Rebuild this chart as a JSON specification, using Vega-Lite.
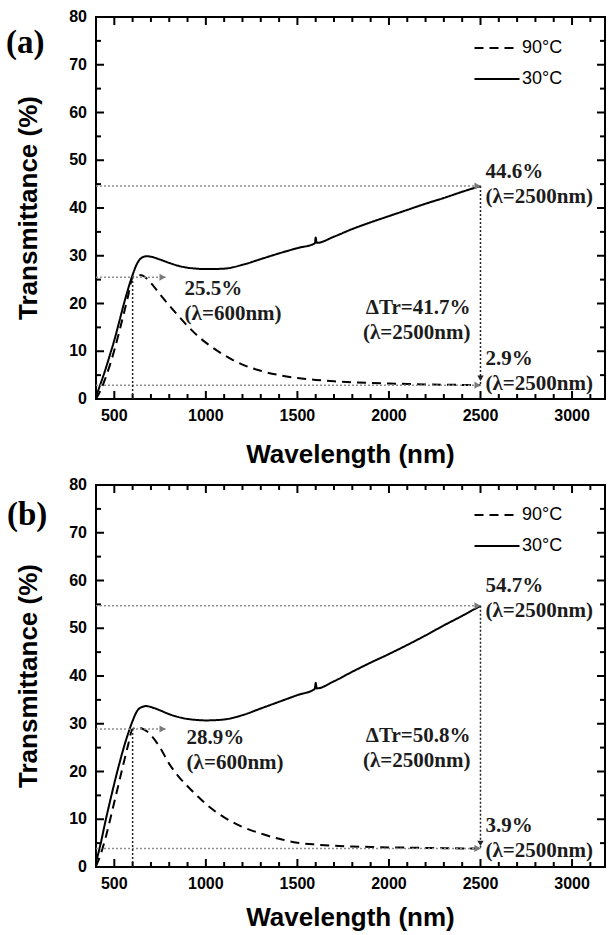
{
  "$schema": "https://vega.github.io/schema/vega-lite/v6.json",
  "background": "white",
  "padding": {"left": 5, "top": 8, "right": 0, "bottom": 0},
  "spacing": 7,
  "config": {
    "view": {"stroke": "black", "strokeWidth": 2},
    "tick": {"color": "black", "opacity": 1, "thickness": 2},
    "title": {"font": "Liberation Serif", "fontSize": 33, "fontWeight": "bold", "color": "black"},
    "text": {"font": "Liberation Serif", "fontSize": 21, "fontWeight": "bold", "color": "#1c1c1c", "lineBreak": "\n", "lineHeight": 25, "baseline": "middle"}
  },
  "resolve": {"scale": {"strokeDash": "independent"}, "legend": {"strokeDash": "independent"}},
  "datasets": {
    "xMajor": [{"v": 500}, {"v": 1000}, {"v": 1500}, {"v": 2000}, {"v": 2500}, {"v": 3000}],
    "xMinor": [{"v": 600}, {"v": 700}, {"v": 800}, {"v": 900}, {"v": 1100}, {"v": 1200}, {"v": 1300}, {"v": 1400},
      {"v": 1600}, {"v": 1700}, {"v": 1800}, {"v": 1900}, {"v": 2100}, {"v": 2200}, {"v": 2300}, {"v": 2400},
      {"v": 2600}, {"v": 2700}, {"v": 2800}, {"v": 2900}, {"v": 3100}],
    "yMajor": [{"v": 10}, {"v": 20}, {"v": 30}, {"v": 40}, {"v": 50}, {"v": 60}, {"v": 70}],
    "yMinor": [{"v": 5}, {"v": 15}, {"v": 25}, {"v": 35}, {"v": 45}, {"v": 55}, {"v": 65}, {"v": 75}],
    "yLabels": [{"v": 0}, {"v": 10}, {"v": 20}, {"v": 30}, {"v": 40}, {"v": 50}, {"v": 60}, {"v": 70}, {"v": 80}],
    "spectraA": [
      {"wl": 400, "T": 0.5, "temp": "30°C"}, {"wl": 425, "T": 3.2, "temp": "30°C"}, {"wl": 450, "T": 6.0, "temp": "30°C"},
      {"wl": 475, "T": 9.1, "temp": "30°C"}, {"wl": 500, "T": 12.3, "temp": "30°C"}, {"wl": 525, "T": 15.9, "temp": "30°C"},
      {"wl": 550, "T": 19.6, "temp": "30°C"}, {"wl": 575, "T": 23.0, "temp": "30°C"}, {"wl": 600, "T": 26.0, "temp": "30°C"},
      {"wl": 625, "T": 28.4, "temp": "30°C"}, {"wl": 650, "T": 29.6, "temp": "30°C"}, {"wl": 675, "T": 29.9, "temp": "30°C"},
      {"wl": 700, "T": 29.8, "temp": "30°C"}, {"wl": 750, "T": 29.2, "temp": "30°C"}, {"wl": 800, "T": 28.5, "temp": "30°C"},
      {"wl": 850, "T": 27.9, "temp": "30°C"}, {"wl": 900, "T": 27.5, "temp": "30°C"}, {"wl": 950, "T": 27.3, "temp": "30°C"},
      {"wl": 1000, "T": 27.2, "temp": "30°C"}, {"wl": 1100, "T": 27.3, "temp": "30°C"}, {"wl": 1200, "T": 28.1, "temp": "30°C"},
      {"wl": 1300, "T": 29.3, "temp": "30°C"}, {"wl": 1400, "T": 30.5, "temp": "30°C"}, {"wl": 1500, "T": 31.6, "temp": "30°C"},
      {"wl": 1595, "T": 32.6, "temp": "30°C"}, {"wl": 1600, "T": 33.8, "temp": "30°C"}, {"wl": 1605, "T": 32.7, "temp": "30°C"},
      {"wl": 1700, "T": 34.0, "temp": "30°C"}, {"wl": 1800, "T": 35.6, "temp": "30°C"}, {"wl": 1900, "T": 37.0, "temp": "30°C"},
      {"wl": 2000, "T": 38.3, "temp": "30°C"}, {"wl": 2100, "T": 39.6, "temp": "30°C"}, {"wl": 2200, "T": 40.9, "temp": "30°C"},
      {"wl": 2300, "T": 42.1, "temp": "30°C"}, {"wl": 2400, "T": 43.4, "temp": "30°C"}, {"wl": 2500, "T": 44.6, "temp": "30°C"},
      {"wl": 400, "T": 0.0, "temp": "90°C"}, {"wl": 425, "T": 1.8, "temp": "90°C"}, {"wl": 450, "T": 4.2, "temp": "90°C"},
      {"wl": 475, "T": 7.0, "temp": "90°C"}, {"wl": 500, "T": 10.2, "temp": "90°C"}, {"wl": 525, "T": 13.8, "temp": "90°C"},
      {"wl": 550, "T": 17.6, "temp": "90°C"}, {"wl": 575, "T": 21.5, "temp": "90°C"}, {"wl": 600, "T": 25.5, "temp": "90°C"},
      {"wl": 625, "T": 26.0, "temp": "90°C"}, {"wl": 650, "T": 25.9, "temp": "90°C"}, {"wl": 675, "T": 25.3, "temp": "90°C"},
      {"wl": 700, "T": 24.3, "temp": "90°C"}, {"wl": 750, "T": 21.9, "temp": "90°C"}, {"wl": 800, "T": 19.6, "temp": "90°C"},
      {"wl": 850, "T": 17.4, "temp": "90°C"}, {"wl": 900, "T": 15.3, "temp": "90°C"}, {"wl": 950, "T": 13.4, "temp": "90°C"},
      {"wl": 1000, "T": 11.8, "temp": "90°C"}, {"wl": 1100, "T": 9.2, "temp": "90°C"}, {"wl": 1200, "T": 7.2, "temp": "90°C"},
      {"wl": 1300, "T": 5.9, "temp": "90°C"}, {"wl": 1400, "T": 5.0, "temp": "90°C"}, {"wl": 1500, "T": 4.4, "temp": "90°C"},
      {"wl": 1600, "T": 4.0, "temp": "90°C"}, {"wl": 1700, "T": 3.7, "temp": "90°C"}, {"wl": 1800, "T": 3.5, "temp": "90°C"},
      {"wl": 1900, "T": 3.35, "temp": "90°C"}, {"wl": 2000, "T": 3.25, "temp": "90°C"}, {"wl": 2100, "T": 3.15, "temp": "90°C"},
      {"wl": 2200, "T": 3.05, "temp": "90°C"}, {"wl": 2300, "T": 3.0, "temp": "90°C"}, {"wl": 2400, "T": 2.95, "temp": "90°C"},
      {"wl": 2500, "T": 2.9, "temp": "90°C"}
    ],
    "spectraB": [
      {"wl": 400, "T": 1.0, "temp": "30°C"}, {"wl": 425, "T": 4.8, "temp": "30°C"}, {"wl": 450, "T": 9.3, "temp": "30°C"},
      {"wl": 475, "T": 13.5, "temp": "30°C"}, {"wl": 500, "T": 17.5, "temp": "30°C"}, {"wl": 525, "T": 21.3, "temp": "30°C"},
      {"wl": 550, "T": 24.8, "temp": "30°C"}, {"wl": 575, "T": 27.9, "temp": "30°C"}, {"wl": 600, "T": 30.6, "temp": "30°C"},
      {"wl": 625, "T": 32.7, "temp": "30°C"}, {"wl": 650, "T": 33.5, "temp": "30°C"}, {"wl": 675, "T": 33.7, "temp": "30°C"},
      {"wl": 700, "T": 33.5, "temp": "30°C"}, {"wl": 750, "T": 32.8, "temp": "30°C"}, {"wl": 800, "T": 32.0, "temp": "30°C"},
      {"wl": 850, "T": 31.4, "temp": "30°C"}, {"wl": 900, "T": 31.0, "temp": "30°C"}, {"wl": 950, "T": 30.8, "temp": "30°C"},
      {"wl": 1000, "T": 30.7, "temp": "30°C"}, {"wl": 1100, "T": 30.9, "temp": "30°C"}, {"wl": 1200, "T": 31.8, "temp": "30°C"},
      {"wl": 1300, "T": 33.2, "temp": "30°C"}, {"wl": 1400, "T": 34.6, "temp": "30°C"}, {"wl": 1500, "T": 36.0, "temp": "30°C"},
      {"wl": 1595, "T": 37.3, "temp": "30°C"}, {"wl": 1600, "T": 38.6, "temp": "30°C"}, {"wl": 1605, "T": 37.4, "temp": "30°C"},
      {"wl": 1700, "T": 38.9, "temp": "30°C"}, {"wl": 1800, "T": 40.9, "temp": "30°C"}, {"wl": 1900, "T": 42.8, "temp": "30°C"},
      {"wl": 2000, "T": 44.6, "temp": "30°C"}, {"wl": 2100, "T": 46.5, "temp": "30°C"}, {"wl": 2200, "T": 48.5, "temp": "30°C"},
      {"wl": 2300, "T": 50.6, "temp": "30°C"}, {"wl": 2400, "T": 52.6, "temp": "30°C"}, {"wl": 2500, "T": 54.7, "temp": "30°C"},
      {"wl": 400, "T": 0.2, "temp": "90°C"}, {"wl": 425, "T": 2.6, "temp": "90°C"}, {"wl": 450, "T": 5.8, "temp": "90°C"},
      {"wl": 475, "T": 9.6, "temp": "90°C"}, {"wl": 500, "T": 13.6, "temp": "90°C"}, {"wl": 525, "T": 17.6, "temp": "90°C"},
      {"wl": 550, "T": 21.6, "temp": "90°C"}, {"wl": 575, "T": 25.5, "temp": "90°C"}, {"wl": 600, "T": 28.9, "temp": "90°C"},
      {"wl": 625, "T": 29.2, "temp": "90°C"}, {"wl": 650, "T": 29.0, "temp": "90°C"}, {"wl": 675, "T": 28.5, "temp": "90°C"},
      {"wl": 700, "T": 27.6, "temp": "90°C"}, {"wl": 750, "T": 25.0, "temp": "90°C"}, {"wl": 800, "T": 21.6, "temp": "90°C"},
      {"wl": 850, "T": 19.0, "temp": "90°C"}, {"wl": 900, "T": 16.9, "temp": "90°C"}, {"wl": 950, "T": 15.0, "temp": "90°C"},
      {"wl": 1000, "T": 13.2, "temp": "90°C"}, {"wl": 1100, "T": 10.4, "temp": "90°C"}, {"wl": 1200, "T": 8.4, "temp": "90°C"},
      {"wl": 1300, "T": 7.0, "temp": "90°C"}, {"wl": 1400, "T": 5.9, "temp": "90°C"}, {"wl": 1500, "T": 5.1, "temp": "90°C"},
      {"wl": 1600, "T": 4.7, "temp": "90°C"}, {"wl": 1700, "T": 4.45, "temp": "90°C"}, {"wl": 1800, "T": 4.3, "temp": "90°C"},
      {"wl": 1900, "T": 4.2, "temp": "90°C"}, {"wl": 2000, "T": 4.1, "temp": "90°C"}, {"wl": 2100, "T": 4.05, "temp": "90°C"},
      {"wl": 2200, "T": 4.0, "temp": "90°C"}, {"wl": 2300, "T": 3.95, "temp": "90°C"}, {"wl": 2400, "T": 3.9, "temp": "90°C"},
      {"wl": 2500, "T": 3.9, "temp": "90°C"}
    ],
    "guidesA": [
      {"from": 400, "to": 2500, "T": 44.6},
      {"from": 400, "to": 780, "T": 25.5},
      {"from": 400, "to": 2500, "T": 2.9}
    ],
    "guidesB": [
      {"from": 400, "to": 2500, "T": 54.7},
      {"from": 400, "to": 780, "T": 28.9},
      {"from": 400, "to": 2500, "T": 3.9}
    ],
    "dropsA": [
      {"wl": 600, "T": 0, "T2": 25.5},
      {"wl": 2500, "T": 44.6, "T2": 2.9}
    ],
    "dropsB": [
      {"wl": 600, "T": 0, "T2": 28.9},
      {"wl": 2500, "T": 54.7, "T2": 3.9}
    ]
  },
  "vconcat": [
    {
      "width": 509,
      "height": 382,
      "title": {"text": "(a)", "orient": "top", "anchor": "start", "frame": "group", "baseline": "middle", "offset": 0, "dx": -90, "dy": 67},
      "layer": [
        {
          "data": {"name": "spectraA"},
          "mark": {"type": "line", "color": "black", "strokeWidth": 2, "interpolate": "monotone"},
          "encoding": {
            "x": {"field": "wl", "type": "quantitative", "scale": {"domain": [400, 3180], "nice": false, "zero": false}, "axis": null},
            "y": {"field": "T", "type": "quantitative", "scale": {"domain": [0, 80], "nice": false, "zero": false}, "axis": null},
            "strokeDash": {"field": "temp", "type": "nominal",
              "scale": {"domain": ["90°C", "30°C"], "range": [[9, 6], [1, 0]]},
              "legend": {"orient": "none", "legendX": 385, "legendY": 15, "title": null, "padding": 0,
                "symbolType": "M-1.5,0H1.5", "symbolSize": 900, "symbolStrokeWidth": 2, "symbolStrokeColor": "black", "symbolFillColor": "transparent",
                "labelFont": "Liberation Sans", "labelFontSize": 18, "labelColor": "black", "labelOffset": 9, "rowPadding": 6}}
          }
        },
        {"data": {"name": "xMajor"}, "mark": {"type": "tick", "orient": "vertical", "size": 8, "yOffset": -4},
          "encoding": {"x": {"field": "v", "type": "quantitative", "axis": null}, "y": {"datum": 0, "type": "quantitative", "axis": null}}},
        {"data": {"name": "xMinor"}, "mark": {"type": "tick", "orient": "vertical", "size": 5, "yOffset": -2.5},
          "encoding": {"x": {"field": "v", "type": "quantitative", "axis": null}, "y": {"datum": 0, "type": "quantitative", "axis": null}}},
        {"data": {"name": "xMajor"}, "mark": {"type": "tick", "orient": "vertical", "size": 8, "yOffset": 4},
          "encoding": {"x": {"field": "v", "type": "quantitative", "axis": null}, "y": {"datum": 80, "type": "quantitative", "axis": null}}},
        {"data": {"name": "xMinor"}, "mark": {"type": "tick", "orient": "vertical", "size": 5, "yOffset": 2.5},
          "encoding": {"x": {"field": "v", "type": "quantitative", "axis": null}, "y": {"datum": 80, "type": "quantitative", "axis": null}}},
        {"data": {"name": "yMajor"}, "mark": {"type": "tick", "orient": "horizontal", "size": 8, "xOffset": 4},
          "encoding": {"y": {"field": "v", "type": "quantitative", "axis": null}, "x": {"datum": 400, "type": "quantitative", "axis": null}}},
        {"data": {"name": "yMinor"}, "mark": {"type": "tick", "orient": "horizontal", "size": 5, "xOffset": 2.5},
          "encoding": {"y": {"field": "v", "type": "quantitative", "axis": null}, "x": {"datum": 400, "type": "quantitative", "axis": null}}},
        {"data": {"name": "yMajor"}, "mark": {"type": "tick", "orient": "horizontal", "size": 8, "xOffset": -4},
          "encoding": {"y": {"field": "v", "type": "quantitative", "axis": null}, "x": {"datum": 3180, "type": "quantitative", "axis": null}}},
        {"data": {"name": "yMinor"}, "mark": {"type": "tick", "orient": "horizontal", "size": 5, "xOffset": -2.5},
          "encoding": {"y": {"field": "v", "type": "quantitative", "axis": null}, "x": {"datum": 3180, "type": "quantitative", "axis": null}}},
        {"data": {"name": "xMajor"},
          "mark": {"type": "text", "font": "Liberation Sans", "fontSize": 16, "fontWeight": "bold", "color": "black", "align": "center", "baseline": "top", "dy": 9},
          "encoding": {"x": {"field": "v", "type": "quantitative", "axis": null}, "y": {"datum": 0, "type": "quantitative", "axis": null},
            "text": {"field": "v", "type": "quantitative", "format": "d"}}},
        {"data": {"name": "yLabels"},
          "mark": {"type": "text", "font": "Liberation Sans", "fontSize": 16, "fontWeight": "bold", "color": "black", "align": "right", "baseline": "middle", "dx": -9},
          "encoding": {"y": {"field": "v", "type": "quantitative", "axis": null}, "x": {"datum": 400, "type": "quantitative", "axis": null},
            "text": {"field": "v", "type": "quantitative", "format": "d"}}},
        {"data": {"values": [{"label": "Wavelength (nm)"}]},
          "mark": {"type": "text", "font": "Liberation Sans", "fontSize": 26, "fontWeight": "bold", "color": "black", "align": "center", "baseline": "middle", "dy": 56},
          "encoding": {"x": {"datum": 1790, "type": "quantitative", "axis": null}, "y": {"datum": 0, "type": "quantitative", "axis": null}, "text": {"field": "label"}}},
        {"data": {"values": [{"label": "Transmittance (%)"}]},
          "mark": {"type": "text", "font": "Liberation Sans", "fontSize": 26, "fontWeight": "bold", "color": "black", "align": "center", "baseline": "middle", "angle": 270},
          "encoding": {"x": {"datum": 34, "type": "quantitative", "axis": null}, "y": {"datum": 40, "type": "quantitative", "axis": null}, "text": {"field": "label"}}},
        {
          "data": {"name": "guidesA"},
          "mark": {"type": "rule", "color": "#8f8f8f", "strokeDash": [2, 2], "strokeWidth": 1.5},
          "encoding": {
            "x": {"field": "from", "type": "quantitative", "axis": null},
            "x2": {"field": "to"},
            "y": {"field": "T", "type": "quantitative", "axis": null}
          }
        },
        {
          "data": {"name": "dropsA"},
          "mark": {"type": "rule", "color": "#222222", "strokeDash": [2, 2], "strokeWidth": 1.5},
          "encoding": {
            "x": {"field": "wl", "type": "quantitative", "axis": null},
            "y": {"field": "T", "type": "quantitative", "axis": null},
            "y2": {"field": "T2"}
          }
        },
        {
          "data": {"name": "guidesA"},
          "mark": {"type": "point", "shape": "triangle-right", "filled": true, "color": "#7a7a7a", "size": 50, "xOffset": -3, "opacity": 1},
          "encoding": {
            "x": {"field": "to", "type": "quantitative", "axis": null},
            "y": {"field": "T", "type": "quantitative", "axis": null}
          }
        },
        {
          "data": {"name": "dropsA"},
          "transform": [{"filter": "datum.wl === 2500"}],
          "mark": {"type": "point", "shape": "triangle-down", "filled": true, "color": "#222222", "size": 40, "yOffset": -7, "opacity": 1},
          "encoding": {
            "x": {"field": "wl", "type": "quantitative", "axis": null},
            "y": {"field": "T2", "type": "quantitative", "axis": null}
          }
        },
        {
          "data": {"values": [{"wl": 2500, "T": 44.6, "label": "44.6%\n(λ=2500nm)"}]},
          "mark": {"type": "text", "align": "left", "dx": 5, "dy": -14},
          "encoding": {
            "x": {"field": "wl", "type": "quantitative", "axis": null},
            "y": {"field": "T", "type": "quantitative", "axis": null},
            "text": {"field": "label"}
          }
        },
        {
          "data": {"values": [{"wl": 2500, "T": 2.9, "label": "2.9%\n(λ=2500nm)"}]},
          "mark": {"type": "text", "align": "left", "dx": 5, "dy": -26},
          "encoding": {
            "x": {"field": "wl", "type": "quantitative", "axis": null},
            "y": {"field": "T", "type": "quantitative", "axis": null},
            "text": {"field": "label"}
          }
        },
        {
          "data": {"values": [{"wl": 600, "T": 25.5, "label": "25.5%\n(λ=600nm)"}]},
          "mark": {"type": "text", "align": "left", "dx": 52, "dy": 12},
          "encoding": {
            "x": {"field": "wl", "type": "quantitative", "axis": null},
            "y": {"field": "T", "type": "quantitative", "axis": null},
            "text": {"field": "label"}
          }
        },
        {
          "data": {"values": [{"wl": 2500, "T": 23.75, "label": "ΔTr=41.7%\n(λ=2500nm)"}]},
          "mark": {"type": "text", "align": "right", "dx": -10, "dy": 22},
          "encoding": {
            "x": {"field": "wl", "type": "quantitative", "axis": null},
            "y": {"field": "T", "type": "quantitative", "axis": null},
            "text": {"field": "label"}
          }
        }
      ]
    },
    {
      "width": 509,
      "height": 382,
      "title": {"text": "(b)", "orient": "top", "anchor": "start", "frame": "group", "baseline": "middle", "offset": 0, "dx": -89, "dy": 71},
      "layer": [
        {
          "data": {"name": "spectraB"},
          "mark": {"type": "line", "color": "black", "strokeWidth": 2, "interpolate": "monotone"},
          "encoding": {
            "x": {"field": "wl", "type": "quantitative", "scale": {"domain": [400, 3180], "nice": false, "zero": false}, "axis": null},
            "y": {"field": "T", "type": "quantitative", "scale": {"domain": [0, 80], "nice": false, "zero": false}, "axis": null},
            "strokeDash": {"field": "temp", "type": "nominal",
              "scale": {"domain": ["90°C", "30°C"], "range": [[9, 6], [1, 0]]},
              "legend": {"orient": "none", "legendX": 385, "legendY": 14, "title": null, "padding": 0,
                "symbolType": "M-1.5,0H1.5", "symbolSize": 900, "symbolStrokeWidth": 2, "symbolStrokeColor": "black", "symbolFillColor": "transparent",
                "labelFont": "Liberation Sans", "labelFontSize": 18, "labelColor": "black", "labelOffset": 9, "rowPadding": 6}}
          }
        },
        {"data": {"name": "xMajor"}, "mark": {"type": "tick", "orient": "vertical", "size": 8, "yOffset": -4},
          "encoding": {"x": {"field": "v", "type": "quantitative", "axis": null}, "y": {"datum": 0, "type": "quantitative", "axis": null}}},
        {"data": {"name": "xMinor"}, "mark": {"type": "tick", "orient": "vertical", "size": 5, "yOffset": -2.5},
          "encoding": {"x": {"field": "v", "type": "quantitative", "axis": null}, "y": {"datum": 0, "type": "quantitative", "axis": null}}},
        {"data": {"name": "xMajor"}, "mark": {"type": "tick", "orient": "vertical", "size": 8, "yOffset": 4},
          "encoding": {"x": {"field": "v", "type": "quantitative", "axis": null}, "y": {"datum": 80, "type": "quantitative", "axis": null}}},
        {"data": {"name": "xMinor"}, "mark": {"type": "tick", "orient": "vertical", "size": 5, "yOffset": 2.5},
          "encoding": {"x": {"field": "v", "type": "quantitative", "axis": null}, "y": {"datum": 80, "type": "quantitative", "axis": null}}},
        {"data": {"name": "yMajor"}, "mark": {"type": "tick", "orient": "horizontal", "size": 8, "xOffset": 4},
          "encoding": {"y": {"field": "v", "type": "quantitative", "axis": null}, "x": {"datum": 400, "type": "quantitative", "axis": null}}},
        {"data": {"name": "yMinor"}, "mark": {"type": "tick", "orient": "horizontal", "size": 5, "xOffset": 2.5},
          "encoding": {"y": {"field": "v", "type": "quantitative", "axis": null}, "x": {"datum": 400, "type": "quantitative", "axis": null}}},
        {"data": {"name": "yMajor"}, "mark": {"type": "tick", "orient": "horizontal", "size": 8, "xOffset": -4},
          "encoding": {"y": {"field": "v", "type": "quantitative", "axis": null}, "x": {"datum": 3180, "type": "quantitative", "axis": null}}},
        {"data": {"name": "yMinor"}, "mark": {"type": "tick", "orient": "horizontal", "size": 5, "xOffset": -2.5},
          "encoding": {"y": {"field": "v", "type": "quantitative", "axis": null}, "x": {"datum": 3180, "type": "quantitative", "axis": null}}},
        {"data": {"name": "xMajor"},
          "mark": {"type": "text", "font": "Liberation Sans", "fontSize": 16, "fontWeight": "bold", "color": "black", "align": "center", "baseline": "top", "dy": 9},
          "encoding": {"x": {"field": "v", "type": "quantitative", "axis": null}, "y": {"datum": 0, "type": "quantitative", "axis": null},
            "text": {"field": "v", "type": "quantitative", "format": "d"}}},
        {"data": {"name": "yLabels"},
          "mark": {"type": "text", "font": "Liberation Sans", "fontSize": 16, "fontWeight": "bold", "color": "black", "align": "right", "baseline": "middle", "dx": -9},
          "encoding": {"y": {"field": "v", "type": "quantitative", "axis": null}, "x": {"datum": 400, "type": "quantitative", "axis": null},
            "text": {"field": "v", "type": "quantitative", "format": "d"}}},
        {"data": {"values": [{"label": "Wavelength (nm)"}]},
          "mark": {"type": "text", "font": "Liberation Sans", "fontSize": 26, "fontWeight": "bold", "color": "black", "align": "center", "baseline": "middle", "dy": 51},
          "encoding": {"x": {"datum": 1790, "type": "quantitative", "axis": null}, "y": {"datum": 0, "type": "quantitative", "axis": null}, "text": {"field": "label"}}},
        {"data": {"values": [{"label": "Transmittance (%)"}]},
          "mark": {"type": "text", "font": "Liberation Sans", "fontSize": 26, "fontWeight": "bold", "color": "black", "align": "center", "baseline": "middle", "angle": 270},
          "encoding": {"x": {"datum": 34, "type": "quantitative", "axis": null}, "y": {"datum": 40, "type": "quantitative", "axis": null}, "text": {"field": "label"}}},
        {
          "data": {"name": "guidesB"},
          "mark": {"type": "rule", "color": "#8f8f8f", "strokeDash": [2, 2], "strokeWidth": 1.5},
          "encoding": {
            "x": {"field": "from", "type": "quantitative", "axis": null},
            "x2": {"field": "to"},
            "y": {"field": "T", "type": "quantitative", "axis": null}
          }
        },
        {
          "data": {"name": "dropsB"},
          "mark": {"type": "rule", "color": "#222222", "strokeDash": [2, 2], "strokeWidth": 1.5},
          "encoding": {
            "x": {"field": "wl", "type": "quantitative", "axis": null},
            "y": {"field": "T", "type": "quantitative", "axis": null},
            "y2": {"field": "T2"}
          }
        },
        {
          "data": {"name": "guidesB"},
          "mark": {"type": "point", "shape": "triangle-right", "filled": true, "color": "#7a7a7a", "size": 50, "xOffset": -3, "opacity": 1},
          "encoding": {
            "x": {"field": "to", "type": "quantitative", "axis": null},
            "y": {"field": "T", "type": "quantitative", "axis": null}
          }
        },
        {
          "data": {"name": "dropsB"},
          "transform": [{"filter": "datum.wl === 2500"}],
          "mark": {"type": "point", "shape": "triangle-down", "filled": true, "color": "#222222", "size": 40, "yOffset": -5, "opacity": 1},
          "encoding": {
            "x": {"field": "wl", "type": "quantitative", "axis": null},
            "y": {"field": "T2", "type": "quantitative", "axis": null}
          }
        },
        {
          "data": {"values": [{"wl": 2500, "T": 54.7, "label": "54.7%\n(λ=2500nm)"}]},
          "mark": {"type": "text", "align": "left", "dx": 5, "dy": -20},
          "encoding": {
            "x": {"field": "wl", "type": "quantitative", "axis": null},
            "y": {"field": "T", "type": "quantitative", "axis": null},
            "text": {"field": "label"}
          }
        },
        {
          "data": {"values": [{"wl": 2500, "T": 3.9, "label": "3.9%\n(λ=2500nm)"}]},
          "mark": {"type": "text", "align": "left", "dx": 5, "dy": -22},
          "encoding": {
            "x": {"field": "wl", "type": "quantitative", "axis": null},
            "y": {"field": "T", "type": "quantitative", "axis": null},
            "text": {"field": "label"}
          }
        },
        {
          "data": {"values": [{"wl": 600, "T": 28.9, "label": "28.9%\n(λ=600nm)"}]},
          "mark": {"type": "text", "align": "left", "dx": 54, "dy": 9},
          "encoding": {
            "x": {"field": "wl", "type": "quantitative", "axis": null},
            "y": {"field": "T", "type": "quantitative", "axis": null},
            "text": {"field": "label"}
          }
        },
        {
          "data": {"values": [{"wl": 2500, "T": 29.3, "label": "ΔTr=50.8%\n(λ=2500nm)"}]},
          "mark": {"type": "text", "align": "right", "dx": -10, "dy": 9},
          "encoding": {
            "x": {"field": "wl", "type": "quantitative", "axis": null},
            "y": {"field": "T", "type": "quantitative", "axis": null},
            "text": {"field": "label"}
          }
        }
      ]
    }
  ]
}
